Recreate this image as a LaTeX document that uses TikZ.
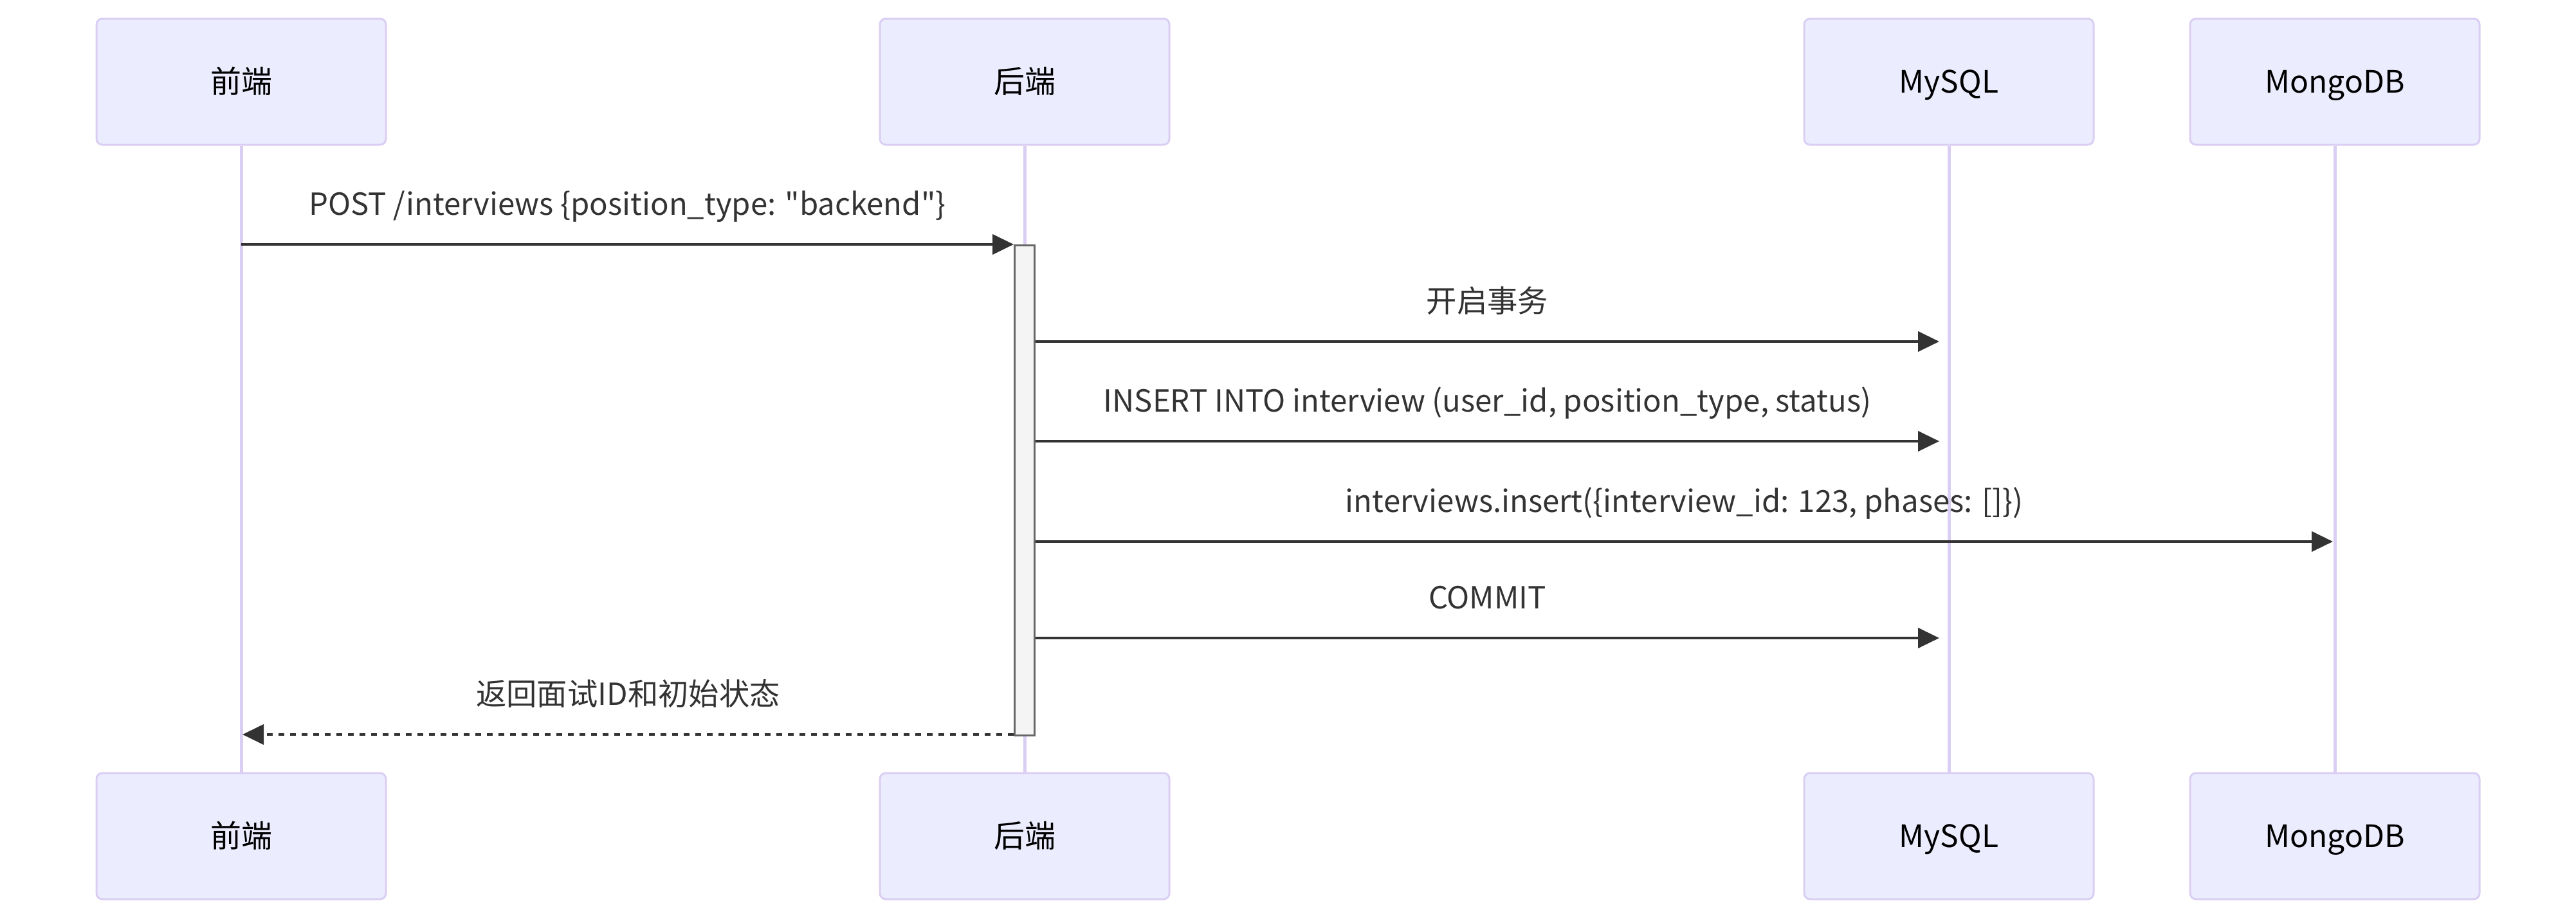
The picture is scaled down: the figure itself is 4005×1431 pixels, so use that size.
\documentclass[tikz,border=0pt]{standalone}
\usepackage{fontspec}
\setmainfont{Noto Sans CJK SC}[Ligatures=TeXOff]
\usetikzlibrary{arrows.meta}
\definecolor{actfill}{HTML}{ECECFF}
\definecolor{actline}{HTML}{DACEF3}
\definecolor{msgcol}{HTML}{333333}
\definecolor{barfill}{HTML}{F4F4F4}
\definecolor{barline}{HTML}{666666}

\begin{document}
\begin{tikzpicture}[x = .3pt, y = -.3pt,
        actor/.style = {draw=actline, fill=actfill, line width=.9pt, rounded corners=2.7pt,
                        minimum width=135pt, minimum height=58.8pt, text=black,
                        text height=10.2pt, text depth=0pt,
                        font=\fontsize{14.4}{17}\selectfont},
        life/.style = {draw=actline, line width=1.5pt},
        msg/.style = {draw=msgcol, line width=1.3pt, -{Triangle[length=9.9pt, width=9.3pt]}},
        reply/.style = {msg, dash pattern=on 2.7pt off 2.7pt},
        lbl/.style = {anchor=base, yshift=13.8pt, text=msgcol, font=\fontsize{14.2}{17}\selectfont},
        bar/.style = {draw=barline, fill=barfill, line width=.9pt, inner sep=0pt,
                      minimum width=9.3pt, minimum height=228.6pt}]
        \useasboundingbox (0,0) rectangle (4005,1431);
        \node[actor] (fe) at (375,127) {前端};
        \node[actor] (be) at (1593,127) {后端};
        \node[actor] (my) at (3030,127) {MySQL};
        \node[actor] (mg) at (3630,127) {MongoDB};
        \node[actor] (fe2) at (375,1300) {前端};
        \node[actor] (be2) at (1593,1300) {后端};
        \node[actor] (my2) at (3030,1300) {MySQL};
        \node[actor] (mg2) at (3630,1300) {MongoDB};
        \draw[life] (fe) -- (fe2);
        \draw[life] (be) -- (be2);
        \draw[life] (my) -- (my2);
        \draw[life] (mg) -- (mg2);
        \node[bar] (act) at (1593,762) {};
        \coordinate (m1a) at (fe |- 0,380);
        \coordinate (m1b) at (act.west |- 0,380);
        \coordinate (m2a) at (act.east |- 0,531);
        \coordinate (m2b) at (3015,531);
        \coordinate (m3a) at (act.east |- 0,686);
        \coordinate (m3b) at (3015,686);
        \coordinate (m4a) at (act.east |- 0,842);
        \coordinate (m4b) at (3627,842);
        \coordinate (m5a) at (act.east |- 0,992);
        \coordinate (m5b) at (3015,992);
        \coordinate (m6a) at (act.west |- 0,1142);
        \coordinate (m6b) at (377,1142);
        \draw[msg] (m1a) -- node[lbl] {POST /interviews \{position\_type: "backend"\}} (m1b);
        \draw[msg] (m2a) -- node[lbl] {开启事务} (m2b);
        \draw[msg] (m3a) -- node[lbl] {INSERT INTO interview (user\_id, position\_type, status)} (m3b);
        \draw[msg] (m4a) -- node[lbl] {interviews.insert(\{interview\_id: 123, phases: []\})} (m4b);
        \draw[msg] (m5a) -- node[lbl] {COMMIT} (m5b);
        \draw[reply] (m6a) -- node[lbl] {返回面试ID和初始状态} (m6b);
      \end{tikzpicture}
\end{document}
